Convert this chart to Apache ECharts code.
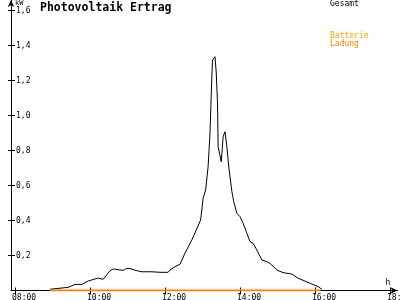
<!DOCTYPE html>
<html><head><meta charset="utf-8">
<script src="https://cdn.jsdelivr.net/npm/echarts@6/dist/echarts.min.js"></script>
<style>html,body{margin:0;padding:0;background:#fff}#c{width:400px;height:300px}</style>
</head><body><div id="c"></div>
<script>
const times = ["8:56","8:59","9:25","9:36","9:47","9:50","9:57","10:08","10:13","10:21","10:24","10:32","10:37","10:45","10:53","10:59","11:04","11:15","11:23","11:39","11:52","12:05","12:08","12:16","12:24","12:32","12:43","12:57","13:01","13:05","13:09","13:12","13:15","13:16","13:20","13:22","13:24","13:25","13:30","13:33","13:36","13:39","13:42","13:47","13:50","13:55","14:00","14:05","14:11","14:16","14:21","14:27","14:35","14:43","14:48","14:59","15:09","15:23","15:33","15:44","15:55","16:05","16:11"];
const gesamt = [0.007,0.018,0.018,0.035,0.035,0.03,0.054,0.066,0.071,0.064,0.066,0.113,0.123,0.119,0.115,0.127,0.125,0.113,0.107,0.107,0.104,0.104,0.117,0.136,0.15,0.214,0.289,0.403,0.527,0.574,0.709,0.9,1.231,1.317,1.336,1.243,1.071,0.822,0.736,0.879,0.907,0.822,0.706,0.565,0.507,0.441,0.422,0.384,0.327,0.279,0.27,0.231,0.174,0.165,0.155,0.117,0.102,0.094,0.07,0.054,0.037,0.022,0.007];
const ladungTimes = ["8:56","16:09"];
const ladung = [0, 0];
const xTicks = [8,10,12,14,16,18];
const yTicks = [0.2,0.4,0.6,0.8,1.0,1.2,1.4,1.6];
const title = "Photovoltaik Ertrag";
const yName = "kW", xName = "h";

function toH(s){const p=s.split(":");return +p[0]+(+p[1])/60;}
const FONT = "DejaVu Sans Mono";
const lab = {fontFamily:FONT,fontSize:8,color:"#000"};
const XMIN = 8 - 4/37.5, XMAX = 18.2;

const chart = echarts.init(document.getElementById('c'),null,{renderer:'canvas'});
chart.setOption({
  animation:false,
  backgroundColor:'#fff',
  grid:{left:11,right:2.5,top:0,bottom:9.5,containLabel:false,outerBoundsMode:'none'},
  title:[
    {text:title,left:40,top:2,padding:0,textStyle:{fontFamily:FONT,fontSize:11.5,fontWeight:'bold',color:'#000'}},
    {text:'Gesamt',left:330,top:0,padding:0,textStyle:{fontFamily:FONT,fontSize:8,fontWeight:'normal',color:'#000'}},
    {text:'Batterie',left:330,top:32,padding:0,textStyle:{fontFamily:FONT,fontSize:8,fontWeight:'normal',color:'#f8a800'}},
    {text:'Ladung',left:330,top:40,padding:0,textStyle:{fontFamily:FONT,fontSize:8,fontWeight:'normal',color:'#ff8000'}}
  ],
  xAxis:[{
    type:'value',min:XMIN,max:XMAX,
    name:xName,nameLocation:'end',nameGap:-12,
    nameTextStyle:{fontFamily:FONT,fontSize:8,color:'#000',verticalAlign:'bottom',padding:[0,0,4,0]},
    axisLine:{show:true,symbol:['none','arrow'],symbolSize:[5,7],lineStyle:{color:'#000',width:1}},
    axisTick:{show:true,length:4,customValues:xTicks,lineStyle:{color:'#000'}},
    axisLabel:{show:true,customValues:xTicks,align:'left',margin:3,padding:[0,0,0,-3],
      formatter:v=>(v<10?'0':'')+Math.round(v)+':00',...lab},
    splitLine:{show:false}
  },{
    type:'value',min:XMIN,max:XMAX,position:'bottom',
    axisLine:{show:false},
    axisTick:{show:true,inside:true,length:3,customValues:xTicks,lineStyle:{color:'#000'}},
    axisLabel:{show:false},splitLine:{show:false}
  }],
  yAxis:[{
    type:'value',min:0,max:1.66,
    name:yName,nameLocation:'end',nameGap:-8,
    nameTextStyle:{fontFamily:FONT,fontSize:7,color:'#000',align:'left',padding:[0,0,0,4]},
    axisLine:{show:true,symbol:['none','arrow'],symbolSize:[5,7],lineStyle:{color:'#000',width:1}},
    axisTick:{show:true,inside:true,length:4,customValues:yTicks,lineStyle:{color:'#000'}},
    axisLabel:{show:true,inside:true,margin:5,customValues:yTicks,
      formatter:v=>v.toFixed(1).replace('.',','),...lab},
    splitLine:{show:false}
  },{
    type:'value',min:0,max:1.66,position:'left',
    axisLine:{show:false},
    axisTick:{show:true,inside:false,length:3,customValues:yTicks,lineStyle:{color:'#000'}},
    axisLabel:{show:false},splitLine:{show:false}
  }],
  series:[
    {name:'Gesamt',type:'line',xAxisIndex:0,yAxisIndex:0,symbol:'none',z:3,
      lineStyle:{color:'#000',width:1},
      data:times.map((t,i)=>[toH(t),gesamt[i]])},
    {name:'Ladung',type:'line',xAxisIndex:0,yAxisIndex:0,symbol:'none',z:4,
      lineStyle:{color:'#ff8000',width:2},
      data:ladungTimes.map((t,i)=>[toH(t),ladung[i]])}
  ]
});
</script></body></html>
